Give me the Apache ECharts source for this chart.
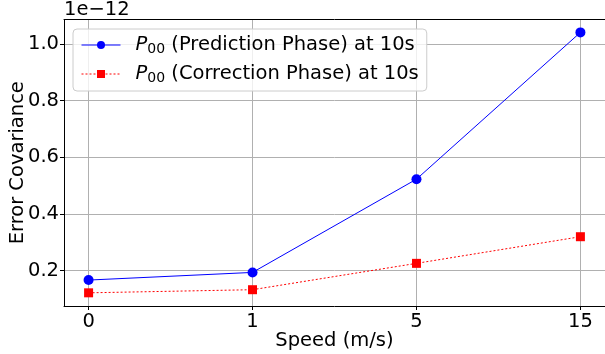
<!DOCTYPE html>
<html>
<head>
<meta charset="utf-8">
<script src="https://cdn.jsdelivr.net/npm/echarts@6/dist/echarts.min.js"></script>
<style>
  html, body { margin: 0; padding: 0; background: #fff; }
  #chart { width: 605px; height: 354px; }
</style>
</head>
<body>
<div id="chart"></div>
<script>
// Speeds tested (category labels on the x axis)
const speeds = ['0', '1', '5', '15'];
// P00 error covariance, in units of 1e-12
const predictionP00 = [0.167, 0.194, 0.523, 1.041];
const correctionP00 = [0.122, 0.133, 0.226, 0.320];
// Y tick labels
const yTicks = [0.2, 0.4, 0.6, 0.8, 1.0];

const FONT = 'DejaVu Sans';
const FS = 19.5;
const toPoints = vals => vals.map((v, i) => [i, v]);

const richLegend = {
  i: { fontStyle: 'italic', fontSize: 19.5, fontFamily: FONT, padding: [0, 0, 0, 10] },
  s: { fontSize: 14, fontFamily: FONT, padding: [8, 0, 0, 0] },
  t: { fontSize: 19.5, fontFamily: FONT }
};

const chart = echarts.init(document.getElementById('chart'), null, { renderer: 'canvas' });
chart.setOption({
  animation: false,
  backgroundColor: '#ffffff',
  title: {
    text: '1e\u221212',
    left: 64, top: 0, padding: 0,
    textStyle: { fontFamily: FONT, fontSize: FS, fontWeight: 'normal', color: '#000' }
  },
  grid: { left: 64, right: 0, top: 19.5, bottom: 48, containLabel: false, outerBoundsMode: 'none' },
  legend: {
    orient: 'vertical',
    left: 73, top: 29,
    padding: [5, 8, 6, 8],
    itemWidth: 39, itemHeight: 10, itemGap: 7,
    backgroundColor: 'rgba(255,255,255,0.8)',
    borderColor: '#cccccc', borderWidth: 1, borderRadius: 4,
    lineStyle: { width: 1 },
    textStyle: { fontFamily: FONT, fontSize: 19.5, color: '#000', lineHeight: 22, rich: richLegend },
    formatter: name => {
      const phase = name.indexOf('Prediction') >= 0 ? 'Prediction' : 'Correction';
      return '{i|P}{s|00}{t| (' + phase + ' Phase) at 10s}';
    },
    data: ['P00 (Prediction Phase) at 10s', 'P00 (Correction Phase) at 10s']
  },
  xAxis: [{
    type: 'value',
    min: -0.15, max: 3.15,
    name: 'Speed (m/s)',
    nameLocation: 'middle', nameGap: 25, nameMoveOverlap: false,
    nameTextStyle: { fontFamily: FONT, fontSize: FS, color: '#000' },
    axisLine: { show: true, onZero: false, lineStyle: { color: '#000', width: 1 } },
    axisTick: { show: true, length: 4, customValues: [0, 1, 2, 3], lineStyle: { color: '#000' } },
    axisLabel: {
      customValues: [0, 1, 2, 3],
      formatter: v => speeds[Math.round(v)],
      fontFamily: FONT, fontSize: FS, color: '#000', margin: 6
    },
    splitLine: { show: true, lineStyle: { color: '#b0b0b0', width: 1 } }
  }, {
    type: 'value', position: 'top',
    min: -0.15, max: 3.15,
    axisLine: { show: true, lineStyle: { color: '#000', width: 1 } },
    axisTick: { show: false }, axisLabel: { show: false }, splitLine: { show: false }
  }],
  yAxis: {
    type: 'value',
    min: 0.0755, max: 1.0865,
    name: 'Error Covariance',
    nameLocation: 'middle', nameGap: 36, nameMoveOverlap: false,
    nameTextStyle: { fontFamily: FONT, fontSize: FS, color: '#000' },
    axisLine: { show: true, onZero: false, lineStyle: { color: '#000', width: 1 } },
    axisTick: { show: true, length: 4, customValues: yTicks, lineStyle: { color: '#000' } },
    axisLabel: {
      customValues: yTicks,
      formatter: v => v.toFixed(1),
      fontFamily: FONT, fontSize: FS, color: '#000', margin: 5
    },
    splitLine: { show: true, lineStyle: { color: '#b0b0b0', width: 1 } }
  },
  series: [{
    name: 'P00 (Prediction Phase) at 10s',
    type: 'line',
    data: toPoints(predictionP00),
    symbol: 'circle', symbolSize: 10,
    itemStyle: { color: '#0000ff' },
    lineStyle: { color: '#0000ff', width: 1 }
  }, {
    name: 'P00 (Correction Phase) at 10s',
    type: 'line',
    data: toPoints(correctionP00),
    symbol: 'rect', symbolSize: 9,
    itemStyle: { color: '#ff0000' },
    lineStyle: { color: '#ff0000', width: 1, type: [2, 2] }
  }]
});
</script>
</body>
</html>
